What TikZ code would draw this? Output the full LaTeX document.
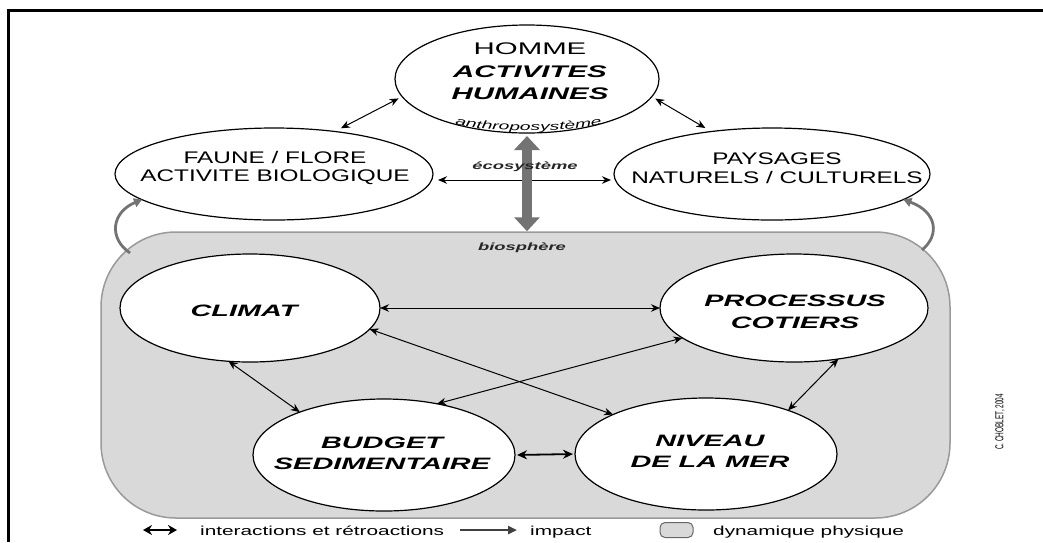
\documentclass[tikz,border=0pt]{standalone}
\usepackage{fontspec}
\setmainfont{Liberation Sans}
\newfontfamily\wideA[FakeStretch=1.75]{Liberation Sans}
\newfontfamily\wideB[FakeStretch=1.45]{Liberation Sans}
\newfontfamily\legfont[FakeStretch=1.6]{Liberation Sans}
\newfontfamily\copyfont[FakeStretch=0.56]{Liberation Sans}
\newcommand\anthrof{\wideA\itshape\fontsize{11}{13}\selectfont}
\usetikzlibrary{shapes.geometric,arrows.meta,decorations.text,calc}
\definecolor{biofill}{HTML}{D9D9D9}
\definecolor{bioline}{HTML}{9A9A9A}
\definecolor{thickgray}{HTML}{737373}
\begin{document}
\begin{tikzpicture}[x=1pt,y=-1pt,
  ell/.style={ellipse, draw=black, line width=1.2pt, fill=white, inner sep=0pt, outer sep=0pt},
  lbl/.style={align=center, inner sep=0pt, outer sep=0pt},
  biarrow/.style={{Stealth[length=9pt,width=7.5pt]}-{Stealth[length=9pt,width=7.5pt]}, line width=1pt, black},
  fatarrow/.style={{Triangle[length=14pt,width=25pt]}-{Triangle[length=14pt,width=25pt]}, line width=10pt, thickgray},
  curvy/.style={-{Triangle[length=8pt,width=9pt]}, line width=2.8pt, thickgray},
  small/.style={inner sep=0pt, font=\wideA\itshape\bfseries\fontsize{10.5}{12}\selectfont, text=black!85}
]
\useasboundingbox (0,0) rectangle (1043,542);
\fill[white] (0,0) rectangle (1043,542);
% frame
\draw[line width=3pt] (8,542) -- (8,10) -- (1043,10);

% biosphere box
\node[draw=bioline, fill=biofill, line width=1.5pt, rounded corners=75pt,
      minimum width=849pt, minimum height=286pt, inner sep=0pt] (bio) at (525.5,375) {};

% upper ellipses
\node[ell, minimum width=264pt, minimum height=108pt] (homme) at (527,79) {};
\node[ell, minimum width=318pt, minimum height=92pt] (faune) at (274,174) {};
\node[ell, minimum width=316pt, minimum height=92pt] (pays) at (772,174) {};

% lower ellipses
\node[ell, minimum width=260pt, minimum height=108pt] (climat) at (250,308) {};
\node[ell, minimum width=268pt, minimum height=108pt] (proc) at (794,308) {};
\node[ell, minimum width=262pt, minimum height=112pt] (budget) at (384,455) {};
\node[ell, minimum width=262pt, minimum height=112pt] (niveau) at (706,454) {};

% upper connectors
\draw[biarrow, shorten <=5pt, shorten >=3pt] ([yshift=-6pt]faune.east) -- ([yshift=-6pt]pays.west);
\draw[biarrow, shorten <=7pt, shorten >=4pt] (faune.35) -- (homme.188);
\draw[biarrow, shorten <=7pt, shorten >=4pt] (pays.145) -- (homme.-8);
\draw[fatarrow, shorten <=3pt] (homme.south) -- (homme.south |- bio.north);

% curved impacts
\coordinate (bl) at (130,253);
\coordinate (br) at (922,250);
\draw[curvy] (bl) .. controls (108,238) and (112,212) .. (faune.191);
\draw[curvy] (br) .. controls (940,235) and (937,212) .. (pays.349);

% lower connectors
\draw[biarrow] (climat.east) -- (proc.west);
\draw[biarrow] (climat.-10) -- (niveau.157);
\draw[biarrow] (proc.195) -- (budget.44);
\draw[biarrow] (climat.248) -- (budget.153);
\draw[biarrow] (proc.311) -- (niveau.28);
\draw[{Stealth[length=10pt,width=9pt]}-{Stealth[length=10pt,width=9pt]}, line width=1.8pt, shorten <=2pt, shorten >=2pt] (budget.east) -- (niveau.west);

% texts
\node[lbl, font=\wideA\fontsize{16.8}{22.5}\selectfont] (hommetxt) at (530,71.5)
  {HOMME\\{\bfseries\itshape ACTIVITES}\\{\bfseries\itshape HUMAINES}};
\node[lbl, font=\wideB\fontsize{16.8}{18.5}\selectfont] (faunetxt) at (275,168)
  {FAUNE / FLORE\\ACTIVITE BIOLOGIQUE};
\node[lbl, font=\wideB\fontsize{16.8}{18.5}\selectfont] (paystxt) at (777,168)
  {PAYSAGES\\NATURELS / CULTURELS};
\node[lbl, font=\wideA\bfseries\itshape\fontsize{16.5}{21}\selectfont] (climattxt) at (244,310.5) {CLIMAT};
\node[lbl, font=\wideA\bfseries\itshape\fontsize{16.5}{22}\selectfont] (proctxt) at (795,312) {PROCESSUS\\COTIERS};
\node[lbl, font=\wideA\bfseries\itshape\fontsize{16.5}{20.5}\selectfont] (budgettxt) at (382,453.5) {BUDGET\\SEDIMENTAIRE};
\node[lbl, font=\wideA\bfseries\itshape\fontsize{16.5}{20.5}\selectfont] (niveautxt) at (710,451.5) {NIVEAU\\DE LA MER};

% anthroposysteme along the arc
\path[decorate, decoration={text along path, text align=center,
  text={|\anthrof|anthroposystème}}]
  (452,124) .. controls (490,133) and (565,133) .. (605,124);

\node[small] (eco) at (525,167) {écosystème};
\node[small] (biosph) at (522,248) {biosphère};

% legend
\coordinate (la1) at (143,530);
\coordinate (la2) at (177,530);
\draw[{Stealth[length=9pt,width=10pt]}-{Stealth[length=9pt,width=10pt]}, line width=2.2pt] (la1) -- (la2);
\node[anchor=base west, inner sep=0pt, font=\legfont\fontsize{13}{15}\selectfont] (leg1) at (200,535) {interactions et rétroactions};
\coordinate (li1) at (460,530);
\coordinate (li2) at (517,530);
\draw[-{Triangle[length=9pt,width=8pt]}, line width=2.5pt, black!75] (li1) -- (li2);
\node[anchor=base west, inner sep=0pt, font=\legfont\fontsize{13}{15}\selectfont] (leg2) at (530,535) {impact};
\node[draw=black!60, fill=biofill, line width=1pt, rounded corners=5pt, minimum width=33pt, minimum height=15pt, inner sep=0pt] (legbox) at (676.5,530) {};
\node[anchor=base west, inner sep=0pt, font=\legfont\fontsize{13}{15}\selectfont] (leg3) at (713,535) {dynamique physique};

% copyright
\node[rotate=90, inner sep=0pt, font=\copyfont\fontsize{11.5}{13}\selectfont] (copy) at (1000,422) {C. CHOBLET, 2004};
\end{tikzpicture}
\end{document}
